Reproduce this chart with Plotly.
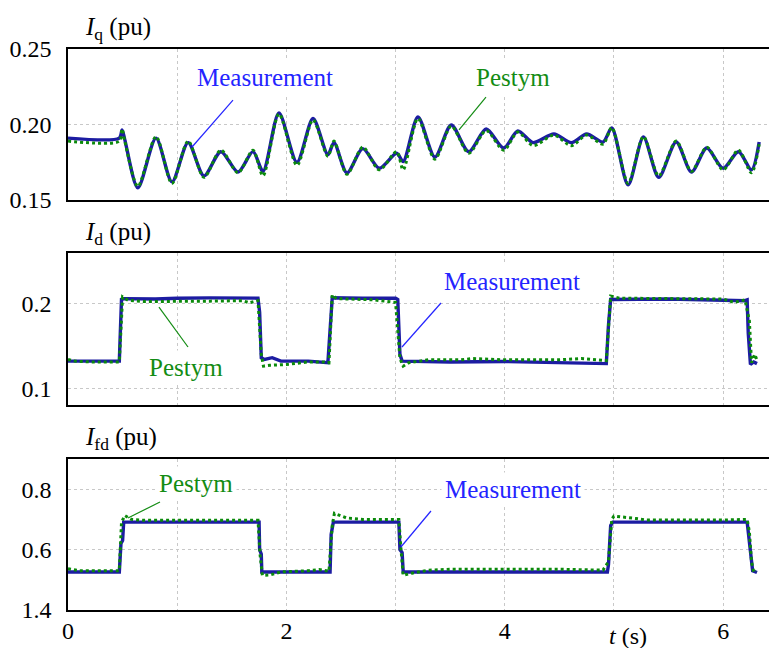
import plotly.graph_objects as go

# ---------------- data ----------------
t_iq = [0, 0.47, 0.495, 0.52, 0.64, 0.806, 0.952, 1.10, 1.245, 1.40, 1.557, 1.694, 1.786,
        1.932, 2.097, 2.244, 2.38, 2.436, 2.555, 2.70, 2.85, 3.01, 3.07, 3.205, 3.36, 3.51,
        3.67, 3.83, 3.99, 4.12, 4.26, 4.45, 4.61, 4.75, 4.90, 4.98, 5.13, 5.27, 5.41, 5.57,
        5.71, 5.85, 6.00, 6.14, 6.26, 6.33]
iq_meas = [0.191, 0.191, 0.1964, 0.190, 0.158, 0.191, 0.162, 0.188, 0.166, 0.182, 0.1685, 0.182, 0.169,
           0.2076, 0.175, 0.204, 0.180, 0.188, 0.168, 0.184, 0.171, 0.181, 0.1755, 0.205, 0.1785, 0.1997,
           0.182, 0.197, 0.1844, 0.1957, 0.188, 0.1937, 0.188, 0.1937, 0.1884, 0.1977, 0.160, 0.1917, 0.165, 0.1884,
           0.1685, 0.1844, 0.171, 0.182, 0.170, 0.1884]
iq_pest = [0.189, 0.189, 0.197, 0.189, 0.159, 0.192, 0.161, 0.189, 0.165, 0.183, 0.168, 0.183, 0.166,
           0.207, 0.173, 0.203, 0.179, 0.189, 0.167, 0.185, 0.170, 0.182, 0.170, 0.204, 0.177, 0.199,
           0.181, 0.196, 0.183, 0.195, 0.186, 0.193, 0.186, 0.193, 0.187, 0.198, 0.161, 0.192, 0.166, 0.189,
           0.169, 0.185, 0.170, 0.183, 0.168, 0.187]

t_id_meas = [0, 0.47, 0.49, 0.52, 0.8, 1.0, 1.3, 1.5, 1.74, 1.755, 1.77, 1.80, 1.87, 1.95, 2.2,
             2.38, 2.40, 2.42, 2.7, 3.0, 3.02, 3.04, 3.06, 3.5, 4.0, 4.5, 4.93, 4.95, 4.97,
             5.5, 6.0, 6.2, 6.22, 6.23, 6.25, 6.28, 6.31]
id_meas = [0.132, 0.132, 0.205, 0.206, 0.2055, 0.2065, 0.2068, 0.2065, 0.2065, 0.19, 0.136, 0.134, 0.136, 0.132, 0.132,
           0.130, 0.165, 0.207, 0.2065, 0.2065, 0.205, 0.14, 0.132, 0.131, 0.1315, 0.130, 0.129, 0.175, 0.205,
           0.2055, 0.2045, 0.2035, 0.2045, 0.165, 0.128, 0.131, 0.129]
t_id_pest = [0, 0.05, 0.2, 0.47, 0.50, 0.55, 0.7, 1.0, 1.3, 1.6, 1.66, 1.74, 1.77, 1.79, 1.85, 2.0,
             2.2, 2.35, 2.39, 2.42, 2.46, 2.8, 3.0, 3.04, 3.07, 3.12, 3.3, 3.6, 3.7, 4.0, 4.5,
             4.7, 4.93, 4.97, 5.05, 5.5, 6.0, 6.1, 6.2, 6.24, 6.26, 6.29, 6.31]
id_pest = [0.134, 0.132, 0.131, 0.131, 0.208, 0.204, 0.2025, 0.2025, 0.203, 0.2035, 0.201, 0.2035, 0.14, 0.126, 0.127, 0.128,
           0.131, 0.131, 0.130, 0.2105, 0.206, 0.2045, 0.2015, 0.135, 0.126, 0.130, 0.1335, 0.1335, 0.135, 0.1335, 0.1335,
           0.135, 0.1325, 0.209, 0.2065, 0.206, 0.2055, 0.2015, 0.2045, 0.18, 0.130, 0.14, 0.133]

t_ifd_meas = [0, 0.47, 0.485, 0.50, 0.51, 1.75, 1.755, 1.77, 1.775, 2.40, 2.41, 2.43, 3.03, 3.04,
              3.06, 3.07, 4.94, 4.95, 4.97, 4.99, 6.22, 6.23, 6.25, 6.27, 6.31]
ifd_meas = [0.526, 0.526, 0.62, 0.63, 0.691, 0.691, 0.60, 0.585, 0.526, 0.526, 0.65, 0.691, 0.691, 0.60,
            0.59, 0.526, 0.526, 0.55, 0.68, 0.691, 0.691, 0.66, 0.60, 0.53, 0.524]
t_ifd_pest = [0, 0.1, 0.47, 0.49, 0.52, 0.58, 0.7, 1.74, 1.76, 1.78, 1.85, 1.95, 2.2, 2.3, 2.39, 2.42,
              2.44, 2.55, 2.7, 3.03, 3.05, 3.07, 3.15, 3.3, 3.5, 4.0, 4.5, 4.9, 4.95, 4.98, 5.0,
              5.2, 5.3, 6.0, 6.2, 6.22, 6.24, 6.26, 6.28, 6.30]
ifd_pest = [0.537, 0.53, 0.53, 0.69, 0.713, 0.70, 0.697, 0.697, 0.58, 0.515, 0.516, 0.526, 0.53, 0.534, 0.528, 0.68,
            0.72, 0.705, 0.70, 0.70, 0.60, 0.515, 0.522, 0.532, 0.535, 0.535, 0.535, 0.532, 0.56, 0.70, 0.711,
            0.703, 0.698, 0.698, 0.698, 0.70, 0.66, 0.56, 0.525, 0.53]

x_ticks = [0, 2, 4, 6]
x_ticktext = ["0", "2", "4", "6"]
x_minor = [1, 3, 5]
y1_ticks = [0.15, 0.20, 0.25]
y1_text = ["0.15", "0.20", "0.25"]
y2_ticks = [0.1, 0.2]
y2_text = ["0.1", "0.2"]
y3_ticks = [0.4, 0.6, 0.8]
y3_text = ["1.4", "0.6", "0.8"]

# ---------------- styles ----------------
BLUE = "#1c1ca2"
GREEN = "#0b8a0b"
TXT_BLUE = "#2424ff"
TXT_GREEN = "#138c13"
FONT = "Liberation Serif, Times New Roman, DejaVu Serif, serif"
GRID = "#c8c8c8"

fig = go.Figure()

def add_pair(tm, ym, tp, yp, xa, ya, shape):
    fig.add_trace(go.Scatter(x=tm, y=ym, mode="lines", xaxis=xa, yaxis=ya,
                             line=dict(color=BLUE, width=3.4, shape=shape, smoothing=0.8),
                             showlegend=False, hoverinfo="skip"))
    fig.add_trace(go.Scatter(x=tp, y=yp, mode="lines", xaxis=xa, yaxis=ya,
                             line=dict(color=GREEN, width=3, dash="dot", shape=shape, smoothing=0.8),
                             showlegend=False, hoverinfo="skip"))

add_pair(t_iq, iq_meas, t_iq, iq_pest, "x", "y", "spline")
add_pair(t_id_meas, id_meas, t_id_pest, id_pest, "x2", "y2", "linear")
add_pair(t_ifd_meas, ifd_meas, t_ifd_pest, ifd_pest, "x3", "y3", "linear")

XMAX = 6.42
xcommon = dict(range=[0, XMAX], showline=True, linecolor="black", linewidth=1.5, mirror=True,
               showgrid=True, gridcolor=GRID, griddash="dot", gridwidth=1, zeroline=False,
               tickvals=x_ticks, ticktext=x_ticktext, ticks="", automargin=False,
               minor=dict(tickvals=x_minor, showgrid=True, gridcolor=GRID, griddash="dot", gridwidth=1, ticks=""),
               tickfont=dict(family=FONT, size=24, color="black"))
ycommon = dict(showline=True, linecolor="black", linewidth=1.5, mirror=False,
               showgrid=True, gridcolor=GRID, griddash="dot", gridwidth=1, zeroline=False,
               ticks="", ticklabelstandoff=10, automargin=False,
               tickfont=dict(family=FONT, size=24, color="black"))

PT, PB = 49, 610
H = PB - PT
def dom(top, bot):
    return [(PB - bot) / H, (PB - top) / H]

fig.update_layout(
    width=769, height=648,
    margin=dict(l=68, r=0, t=49, b=38),
    paper_bgcolor="white", plot_bgcolor="white",
    xaxis=dict(**xcommon, anchor="y", showticklabels=False),
    xaxis2=dict(**xcommon, anchor="y2", showticklabels=False),
    xaxis3=dict(**xcommon, anchor="y3", showticklabels=True, ticklabelstandoff=-2),
    yaxis=dict(**ycommon, domain=dom(49, 200), range=[0.15, 0.25], tickvals=y1_ticks, ticktext=y1_text, anchor="x"),
    yaxis2=dict(**ycommon, domain=dom(253, 405), range=[0.08, 0.26], tickvals=y2_ticks, ticktext=y2_text, anchor="x2"),
    yaxis3=dict(**ycommon, domain=dom(459, 610), range=[0.4, 0.9], tickvals=y3_ticks, ticktext=y3_text, anchor="x3"),
)

def py_to_paper(py):
    return (PB - py) / H

titles = [("<i>I</i><sub>q</sub> (pu)", 28), ("<i>I</i><sub>d</sub> (pu)", 233), ("<i>I</i><sub>fd</sub> (pu)", 438)]
for txt, py in titles:
    fig.add_annotation(text=txt, xref="paper", yref="paper", x=(83 - 68) / 701, y=py_to_paper(py),
                       xanchor="left", yanchor="middle", showarrow=False,
                       font=dict(family=FONT, size=25, color="black"))

fig.add_annotation(text="<i>t</i> (s)", xref="paper", yref="paper", x=(628 - 68) / 701, y=py_to_paper(636),
                   xanchor="center", yanchor="middle", showarrow=False,
                   font=dict(family=FONT, size=24, color="black"))

labels = [
    ("Measurement", TXT_BLUE, "x", "y", 1.804, 0.2308, (1.511, 0.2162, 1.136, 0.1851)),
    ("Pestym", TXT_GREEN, "x", "y", 4.075, 0.2308, (3.828, 0.2182, 3.581, 0.1964)),
    ("Pestym", TXT_GREEN, "x2", "y2", 1.081, 0.125, (0.833, 0.196, 1.099, 0.1487)),
    ("Measurement", TXT_BLUE, "x2", "y2", 4.066, 0.2257, (3.416, 0.2008, 3.059, 0.1487)),
    ("Pestym", TXT_GREEN, "x3", "y3", 1.172, 0.8205, (0.8425, 0.7576, 0.549, 0.7046)),
    ("Measurement", TXT_BLUE, "x3", "y3", 4.075, 0.7974, (3.324, 0.7278, 3.049, 0.6086)),
]
for txt, col, xr, yr, x, y, ln in labels:
    fig.add_annotation(text=txt, xref=xr, yref=yr, x=x, y=y, showarrow=False,
                       xanchor="center", yanchor="middle", bgcolor="white", borderpad=3,
                       font=dict(family=FONT, size=25, color=col))
    fig.add_shape(type="line", xref=xr, yref=yr, x0=ln[0], y0=ln[1], x1=ln[2], y1=ln[3],
                  line=dict(color=col, width=1.2))

fig.write_html("out.html", config={"displayModeBar": False},
               post_script="document.body.style.margin='0';document.body.style.overflow='hidden';")
